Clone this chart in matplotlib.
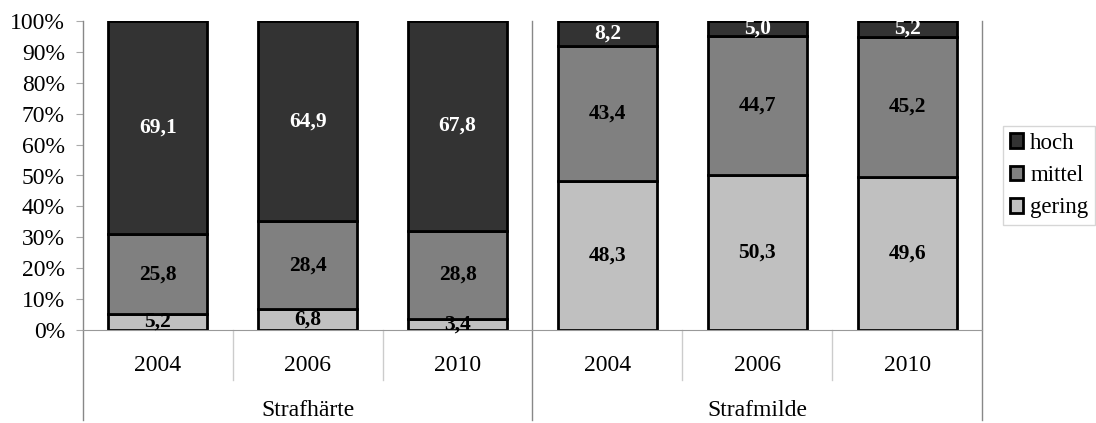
import numpy as np
import matplotlib
matplotlib.use("Agg")
import matplotlib.pyplot as plt
from matplotlib.transforms import blended_transform_factory

plt.rcParams['font.family'] = ['Liberation Serif', 'DejaVu Serif']

years = ["2004", "2006", "2010", "2004", "2006", "2010"]
groups = ["Strafhärte", "Strafmilde"]
gering = [5.2, 6.8, 3.4, 48.3, 50.3, 49.6]
mittel = [25.8, 28.4, 28.8, 43.4, 44.7, 45.2]
hoch = [69.1, 64.9, 67.8, 8.2, 5.0, 5.2]

series = [("gering", gering, "#c0c0c0", "black"),
          ("mittel", mittel, "#808080", "black"),
          ("hoch", hoch, "#333333", "white")]

fig = plt.figure(figsize=(10.96, 4.23), dpi=100)
ax = fig.add_axes([83 / 1096, 1 - 330 / 423, (982 - 83) / 1096, 309 / 423])

x = np.arange(len(years))
totals = np.array(gering) + np.array(mittel) + np.array(hoch)
bottom = np.zeros(len(years))
handles = {}
for name, vals, col, tcol in series:
    h = np.array(vals) / totals * 100
    b = ax.bar(x, h, 0.66, bottom=bottom, color=col, edgecolor="black", linewidth=2, label=name)
    handles[name] = b
    for xi, bi, hi, v in zip(x, bottom, h, vals):
        ax.text(xi, bi + hi / 2, f"{v:.1f}".replace(".", ","), ha="center", va="center",
                fontsize=15.5, fontweight="bold", color=tcol)
    bottom += h

ax.set_xlim(-0.5, 5.5)
ax.set_ylim(0, 100)
ax.set_yticks(np.arange(0, 101, 10))
ax.set_yticklabels([f"{t}%" for t in range(0, 101, 10)], fontsize=17)
ax.tick_params(axis="y", length=5, color="#aaaaaa", pad=8)
ax.set_xticks([])
for s in ["top", "right", "left"]:
    ax.spines[s].set_visible(False)
ax.spines["bottom"].set_color("#999999")

tr = blended_transform_factory(ax.transData, ax.transAxes)
low = -90 / 309
mid = -50 / 309
# outer and group separator lines
for xs in [-0.5, 2.5, 5.5]:
    ax.plot([xs, xs], [1, low], transform=tr, color="#888888", lw=1, clip_on=False)
# separators between years
for xs in [0.5, 1.5, 3.5, 4.5]:
    ax.plot([xs, xs], [0, mid], transform=tr, color="#cccccc", lw=1, clip_on=False)

for xi, yr in zip(x, years):
    ax.text(xi, -35 / 309, yr, transform=tr, ha="center", va="center", fontsize=17)
for gi, g in enumerate(groups):
    ax.text(1 + 3 * gi, -80 / 309, g, transform=tr, ha="center", va="center", fontsize=17)

leg = ax.legend([handles["hoch"], handles["mittel"], handles["gering"]],
                ["hoch", "mittel", "gering"], loc="center left",
                bbox_to_anchor=(1.023, 0.5), fontsize=16.5, frameon=True,
                fancybox=False, edgecolor="#cccccc", handlelength=0.6, handleheight=0.6,
                handletextpad=0.3, borderpad=0.3, labelspacing=0.5, borderaxespad=0)

fig.savefig("out.png", dpi=100)
